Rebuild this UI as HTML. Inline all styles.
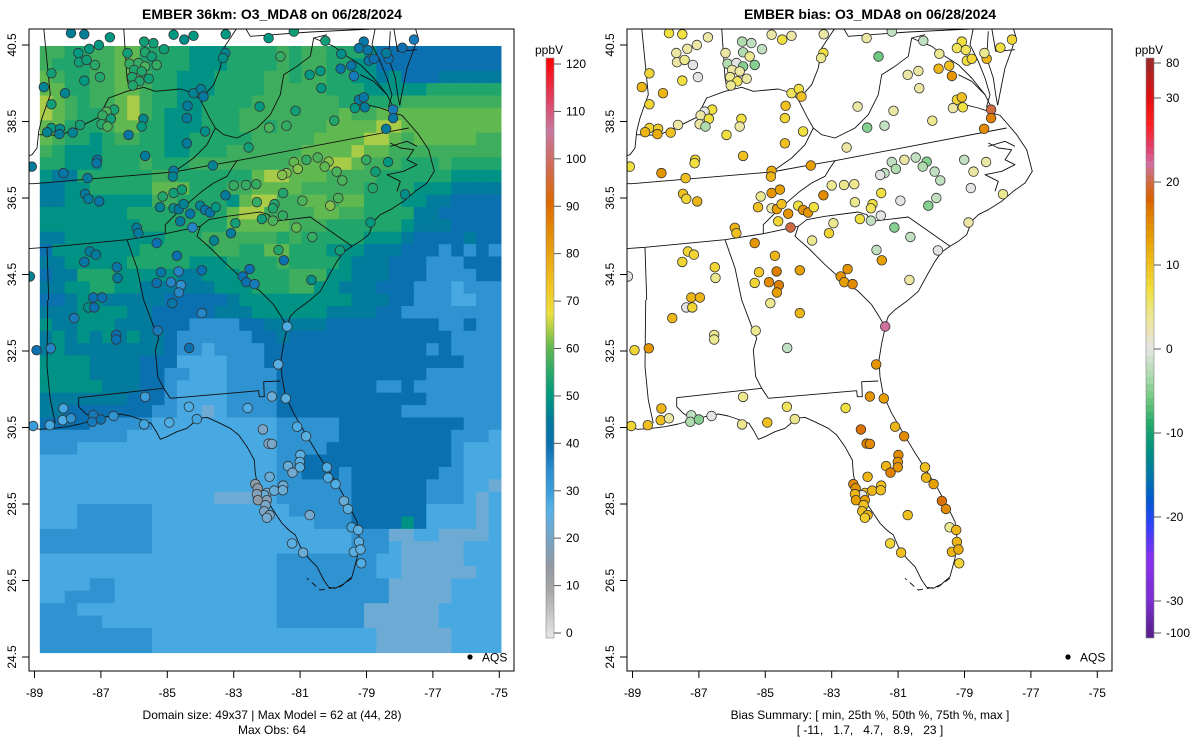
<!DOCTYPE html>
<html><head><meta charset="utf-8"><title>EMBER O3_MDA8</title>
<style>
html,body{margin:0;padding:0;background:#fff;}
svg{display:block;font-family:"Liberation Sans",Arial,sans-serif;}
</style></head>
<body>
<svg id="fig" width="1200" height="750" viewBox="0 0 1200 750" xmlns="http://www.w3.org/2000/svg">
<defs>
<clipPath id="clipL"><rect x="29" y="29" width="485" height="642"/></clipPath>
<clipPath id="clipR"><rect x="627" y="29" width="485" height="642"/></clipPath>
<linearGradient id="gradObs" x1="0" y1="1" x2="0" y2="0">
<stop offset="0" stop-color="#e6e6e6"/><stop offset="0.083" stop-color="#a6a6a6"/>
<stop offset="0.125" stop-color="#9098a0"/><stop offset="0.17" stop-color="#78a4c4"/>
<stop offset="0.22" stop-color="#58b2e8"/><stop offset="0.25" stop-color="#3aa0dc"/>
<stop offset="0.29" stop-color="#2a8ed0"/><stop offset="0.333" stop-color="#0a70b0"/>
<stop offset="0.375" stop-color="#007a9c"/><stop offset="0.417" stop-color="#009880"/>
<stop offset="0.458" stop-color="#28a868"/><stop offset="0.5" stop-color="#60b850"/>
<stop offset="0.53" stop-color="#a8cc48"/><stop offset="0.56" stop-color="#ece040"/>
<stop offset="0.6" stop-color="#f0c828"/><stop offset="0.667" stop-color="#e8a010"/>
<stop offset="0.75" stop-color="#dc6a00"/><stop offset="0.81" stop-color="#d06a50"/>
<stop offset="0.875" stop-color="#c878a0"/><stop offset="0.93" stop-color="#e04060"/>
<stop offset="1" stop-color="#ff0000"/>
</linearGradient>
</defs>
<g id="root"></g>
</svg>
<script>
// ---------- data ----------
const gridRows = [
"HHGGHHIIGGGGFFFGGGGHGHHGGGFDDDDDDDDDD",
"HGGGHHIIGGGGFFFGGGGHGHHGGFFDDDDDDDDDD",
"IHGGHHIIHGGFFFGGGGHHGHHGGFFEFDDDEEEEE",
"IIGGHHIIHGGFFFGGGGHHHHHGGGFFFFFGGGGGG",
"JIHGHHIJHGGFFGGGGHHHHHHHGGGGGHHHHHHHH",
"JIHGGHIJHGFFFGGGHHHHHHHHIHHIIIIIIIIII",
"IIGGGHIIGGFFFGGGHHGHHHHIIIIJJIIIIIIII",
"IHGGFGHHGGFFGGGGGHHHHHIIIIJJIHIIIIIHH",
"HGFFFGGGGGFFGGGHHHHHHIIIIJIIHHHHHHHHH",
"GGFFFGGGHGGGHHHHHHHHIIIJJIHHHGGGHGGGG",
"FEEGGGGGGHHGGGGGGIJJIIIHHHHGGGGGGFFFF",
"EEFFGGGGGIIIGGGHHIIIIHHHHHGGGGFFFEEEE",
"EEFFFFFFFHHGGGGFIJJHHIIHIIGGGFFEEDDDD",
"FFFFFFFGGGGGGGGIJJHHHHIIHHGGGGEEDDDDD",
"FFFFFFFFGGGGGGGIIIIIHHHGGGGGGFEEEDDDD",
"EEFFFFFFFFGGGHHHHHHGHGGGGGFFFEDDDDEDD",
"DFFFFFFFGGGGGGHHGGIIGGGFFFEEEDDDCDCDC",
"EEFFFFFGGGGGFFFGGGGHGGGGFEEEDDDCCCDDD",
"DEEGGGFFFFFEEFFFGGGGHHHFFEEEDDDCCCCDD",
"EEFFGGFFEEEEEEFFFGGGHHFFEEEDDDCCCBCCC",
"DDEFFEEEEEDDDDDEFFFFFFFFFEEEDDCCCBBCC",
"EEEFFFFEEDDDDDEEEFFFFFFEEEEDDCCCCCCCC",
"FEEFFFEEEDDDCCCCDDEEEEEDDDDDDDDDCCDCC",
"EFEFEFEFEEDCCCCCCDDEDDDDDDDDDDDDDCCCC",
"EFEEEEEEEEDCCBCCCCDDDDDDDDDDDDDCDCCCC",
"FFFFEEEEDDDBBBBCCCDDDDDDDDDDDDDDDDCCC",
"FFFFEEEEDDCCBBBCCCCDDDDDDDDDDDDCCCCCC",
"FFFFFEEEDDCBBBBCCCCDDDDDDDDCCDCCCCCCC",
"EEEEEEEDDDCBBBBCCCCDDDDDDDDDDDDCCCCCC",
"EEDDDDDDDCCBBABCCCCDDDDDDDDDDCCCCCCCC",
"DDDDCCCCCBBBBBBBBBBCCCCCDDDDDDDDDDCCC",
"CCCCCCCBBBBBBBBBBBBCCCCCDDDDDDDDDCCCB",
"CCCBBBBBBBBBBBBBBBBCCCCDDDDDDDDDDCBBB",
"BBBBBBBBBBBBBBBBBBBCCDDDDDDDDDDDDCBBB",
"BBBBBBBBBBBBBBBBBBBCCDDDCDDDDDDDCCBBB",
"BBBBBBBBBBBBBBBBBBBCCCCCCDDDDDDCCCBBA",
"BBBBBBBBBBBBBBAAABBCCCCCCDDDDDDCCCBAB",
"BBBCCCCCCBBBBBBBBBBBCCCCCDDDDDDBBBBAB",
"BBBCCCCCCBBBBBBBBBBBBBCCCDDDDFDBBBBAB",
"CCCCCCCCCBBBBBBBBBBBBBBBBCCCAABBAAAAB",
"CCCCCCCCCBBBBBBBBBBBBBBBBCCCBAAAAABBB",
"BBBBBBBBBBBBBBBBBBBCCCCCCCCBBAAAAABBB",
"BBBBBBBBBBBBBBBBBBBCCCCCCCCBBAAAAAABB",
"BBBBCCBBBBBBBBBBBBBCCCCCCCCCAAAAABBBB",
"BBCCCCBBBBBBBBBBBBBCCCCCCCCCAAAAABBBB",
"CCCBBBBBBBBBBBBBBBBCCCCCCCAAAAAABBBBB",
"CCCCCBBBBBBBBBBBBBBCCCCCCCAAAAAABBBBB",
"CCCCCCCCCBBBBBBBBBBBBBBBBBBAAAAAABBBB",
"CCCCCCCCCBBBBBBBBBBBBBBBBBBAAAAAABBBB"
];
const levelCodes = "ABCDEFGHIJK";
const levelValues = [23,29,34,40,44,49,54,57,60,64,66];

// monitor sites: longitude, latitude (axis coords), observed O3 (ppbV), model bias (ppbV)
const siteLon = [-87.90,-87.50,-86.73,-87.06,-87.35,-87.68,-87.66,-87.43,-87.18,-87.03,-87.50,-88.49,-88.72,-88.08,-88.49,-86.60,-86.83,-86.95,-86.70,-86.98,-86.80,-87.63,-88.49,-88.62,-88.23,-88.25,-87.85,-86.17,-85.72,-85.77,-86.20,-85.70,-85.42,-85.10,-85.67,-85.47,-86.14,-85.87,-85.67,-85.32,-86.00,-85.77,-86.06,-85.84,-85.56,-86.04,-84.81,-84.49,-84.21,-83.24,-83.25,-83.32,-84.21,-83.99,-83.91,-84.39,-84.41,-83.86,-84.41,-85.67,-87.11,-87.13,-89.08,-88.13,-87.40,-87.48,-87.38,-87.05,-84.81,-84.83,-83.63,-84.81,-84.56,-85.14,-85.22,-84.81,-84.65,-84.51,-84.31,-84.01,-83.86,-83.71,-83.54,-83.25,-84.61,-84.24,-83.00,-82.63,-82.32,-82.55,-82.22,-81.93,-81.41,-81.14,-81.59,-81.95,-81.19,-80.71,-80.39,-80.36,-80.24,-79.78,-79.76,-79.46,-79.38,-79.08,-79.23,-78.96,-78.93,-78.78,-78.33,-78.40,-77.92,-77.57,-79.23,-79.08,-79.35,-79.05,-78.20,-78.20,-78.41,-79.97,-81.19,-80.81,-80.47,-80.14,-80.26,-79.90,-79.73,-81.07,-81.41,-81.54,-81.51,-82.30,-81.77,-81.82,-80.93,-80.09,-79.85,-79.01,-78.73,-78.35,-78.81,-77.84,-82.15,-81.82,-81.52,-81.11,-80.63,-79.80,-78.88,-82.95,-83.08,-83.59,-81.65,-81.49,-82.52,-82.73,-82.62,-82.37,-80.66,-81.39,-85.32,-84.71,-84.66,-85.19,-83.96,-84.89,-84.59,-84.65,-85.32,-84.85,-83.96,-86.52,-86.50,-87.33,-87.15,-87.50,-87.23,-86.97,-87.38,-87.20,-87.80,-85.92,-85.87,-89.14,-86.54,-86.54,-85.29,-84.34,-88.94,-88.51,-81.66,-81.85,-81.43,-82.58,-84.35,-85.67,-88.13,-88.15,-87.90,-87.23,-87.26,-87.00,-86.62,-85.70,-84.94,-84.11,-88.54,-89.04,-82.12,-81.09,-80.82,-81.95,-81.85,-80.99,-81.01,-81.01,-81.36,-81.23,-81.92,-80.19,-80.16,-79.93,-79.68,-79.56,-82.35,-82.28,-82.00,-82.08,-82.30,-82.27,-82.00,-82.04,-82.08,-81.92,-82.00,-81.78,-81.51,-81.52,-80.71,-79.45,-79.25,-79.23,-79.38,-79.18,-79.16,-81.24,-80.91];
const siteLat = [40.81,40.78,40.70,40.50,40.40,40.29,40.05,40.11,39.98,39.66,39.57,39.76,39.40,39.24,38.95,38.81,38.76,38.66,38.57,38.43,38.37,38.41,38.33,38.22,38.31,38.17,38.21,38.15,38.57,38.37,40.29,40.59,40.55,40.39,40.31,40.20,40.01,40.03,39.94,39.98,39.85,39.81,39.66,39.55,39.62,39.44,40.77,40.64,40.74,40.78,40.29,40.16,39.24,39.35,39.15,38.91,38.59,38.24,37.93,37.60,37.50,37.41,37.32,37.15,37.02,36.61,36.48,36.41,37.21,37.06,37.35,36.63,36.72,36.54,36.26,36.23,36.21,36.34,36.09,36.30,36.19,36.12,36.26,36.57,35.89,35.73,36.83,36.84,36.86,37.82,38.89,38.34,38.39,38.78,40.20,40.68,40.85,39.72,39.82,39.37,40.61,39.88,40.27,39.96,39.69,40.59,40.42,40.37,40.09,40.14,40.14,40.29,40.43,40.64,39.07,39.13,38.85,38.87,38.81,38.59,38.31,38.52,37.44,37.50,37.56,37.45,37.32,37.19,36.96,37.26,37.15,37.10,36.63,36.39,36.34,36.23,36.43,36.30,36.50,37.50,37.19,37.44,36.76,36.60,35.95,35.91,36.04,35.73,35.48,35.13,35.86,35.84,35.58,35.39,35.14,34.87,34.64,34.45,34.30,34.25,34.36,33.14,35.32,34.99,34.58,34.56,34.61,34.30,34.22,34.03,34.28,33.75,33.49,34.69,34.41,35.10,35.02,34.83,33.90,33.90,33.64,33.64,33.36,35.72,35.58,34.45,32.92,32.80,33.03,32.58,32.52,32.57,32.15,31.31,31.26,31.01,31.04,31.30,31.00,30.69,30.74,30.82,30.65,30.71,30.80,30.58,30.63,30.72,30.56,30.54,30.45,30.52,30.27,30.08,30.07,29.78,29.60,29.46,29.49,29.32,29.21,29.46,29.19,29.02,28.58,28.37,29.02,28.91,28.79,28.73,28.76,28.60,28.60,28.47,28.31,28.21,28.14,28.85,28.98,28.86,28.21,27.89,27.82,27.51,27.25,27.31,26.95,27.47,27.23];
const siteObs = [45,45,50,50,50,50,52,52,55,54,50,52,46,46,52,53,58,56,52,55,58,52,50,46,48,45,46,42,47,50,52,52,52,52,54,52,56,56,58,56,54,54,54,54,52,54,50,48,50,50,46,48,46,45,43,44,44,48,44,44,42,42,44,42,44,44,44,42,44,46,46,52,52,54,46,48,44,46,42,46,42,42,50,44,44,36,56,56,56,52,50,58,56,52,56,50,52,50,50,50,52,42,48,42,38,42,42,42,42,40,40,44,40,38,44,42,50,44,38,42,44,54,60,56,58,62,60,58,58,62,62,62,54,56,54,54,58,62,58,56,52,50,54,48,52,58,56,60,56,52,50,52,44,46,54,40,40,40,40,38,48,28,40,40,36,42,40,36,34,36,40,42,36,42,44,44,44,42,40,40,48,40,38,44,44,46,40,40,38,40,40,36,26,24,26,28,28,32,30,28,34,38,38,40,34,30,28,30,30,32,20,28,26,20,20,26,26,26,24,22,24,28,28,28,24,26,16,16,22,24,18,16,18,20,20,20,22,24,24,24,22,30,26,26,26,26,28,26,24];
const siteBias = [7,7,3,3,3,3,3,4,0,0,7,8,11,11,8,7,0,3,7,3,-3,3,8,11,9,12,10,7,7,3,3,-3,-2,-2,-3,4,-3,0,-5,-5,3,3,4,6,3,4,3,7,3,3,7,4,6,7,10,10,8,7,10,10,8,7,7,14,10,10,8,11,12,11,13,14,13,4,10,3,13,10,14,7,14,14,7,15,8,20,4,4,4,3,3,-5,-2,3,-6,3,-2,3,3,3,-2,11,4,10,14,7,6,6,7,8,11,4,7,8,8,10,3,7,20,16,15,4,-2,3,-2,-5,-3,-2,-2,-3,-2,0,7,4,7,6,0,-5,-2,-2,3,3,0,4,7,-2,0,-5,-2,0,3,4,8,4,-2,13,14,14,13,15,3,22,14,11,16,9,13,15,16,13,8,4,11,8,4,8,8,8,11,11,0,8,11,11,10,0,4,4,4,-2,8,14,14,14,13,7,6,4,11,10,3,-2,-3,-5,0,4,10,4,10,8,17,11,15,16,15,15,14,14,11,16,11,10,11,13,17,15,15,14,10,0,11,13,13,10,10,11,9,11,10,10,10,4,11,11,11,12,8,8,10];

const xTickVals = [-89,-87,-85,-83,-81,-79,-77,-75];
const yTickVals = [40.5,38.5,36.5,34.5,32.5,30.5,28.5,26.5,24.5];
const obsTickVals = [0,10,20,30,40,50,60,70,80,90,100,110,120];
const biasTickVals = [80,30,20,10,0,-10,-20,-30,-100];
const biasTickY = [63,98,182,265,349,433,517,601,633];

// ---------- scales ----------
const OFF = 598;
function xL(lon){ return 34.5 + (lon + 89) * 33.2; }
function yS(lat){ return 45 + (40.5 - lat) * 38.25; }
function hex(h){ return [parseInt(h.substr(1,2),16),parseInt(h.substr(3,2),16),parseInt(h.substr(5,2),16)]; }
function interp(stops, v){
  if (v <= stops[0][0]) return stops[0][1];
  for (let i=1;i<stops.length;i++){
    if (v <= stops[i][0]){
      const a=stops[i-1], b=stops[i], t=(v-a[0])/(b[0]-a[0]);
      const ca=hex(a[1]), cb=hex(b[1]);
      return 'rgb('+ca.map((c,k)=>Math.round(c+(cb[k]-c)*t)).join(',')+')';
    }
  }
  return stops[stops.length-1][1];
}
const obsStops = [[0,'#e6e6e6'],[10,'#a6a6a6'],[15,'#9098a0'],[20,'#7ca6c8'],[24,'#68acd8'],[27,'#52b0e6'],[31,'#3ea2de'],[35,'#2a8ccc'],[40,'#0a70b0'],[45,'#007e98'],[50,'#009880'],[55,'#28a868'],[60,'#60b850'],[64,'#a8cc48'],[68,'#ece040'],[72,'#f0c828'],[80,'#e8a010'],[90,'#dc6a00'],[97,'#d06a50'],[105,'#c878a0'],[112,'#e04060'],[120,'#ff0000']];
const biasStops = [[-100,'#5a2090'],[-30,'#7a2ed0'],[-25,'#8a30f0'],[-21,'#3040ff'],[-18,'#0058d0'],[-15,'#0078a8'],[-12,'#009080'],[-9,'#20a868'],[-6,'#70c880'],[-3,'#b0dcb0'],[0,'#e4e4e4'],[2,'#ebe4b8'],[4,'#ece890'],[7,'#f0e040'],[10,'#f0c020'],[13,'#e8a000'],[16,'#e08000'],[18,'#d86000'],[20,'#d06a40'],[22,'#d070a0'],[24,'#e04070'],[27,'#ff2020'],[30,'#e01010'],[80,'#a02828']];

const NS='http://www.w3.org/2000/svg';
const root=document.getElementById('root');
function mk(tag, attrs, parent){
  const e=document.createElementNS(NS,tag);
  for (const k in attrs) e.setAttribute(k, attrs[k]);
  (parent||root).appendChild(e); return e;
}

// ---------- panels ----------
function panel(side){
  const off = side==='left'?0:OFF;
  const g = mk('g',{});
  
  
  return {g, off};
}
const PL = panel('left'), PR = panel('right');

// heatmap (left)
const hm = mk('g',{'clip-path':'url(#clipL)'}, PL.g);


const lon0=-88.84, dlon=0.3755, lat0=40.474, dlat=0.3237;
gridRows.forEach((row,r)=>{
  for (let c=0;c<37;c++){
    const ch=row.charAt(c)||row.charAt(row.length-1);
    const v=levelValues[levelCodes.indexOf(ch)];
    const x0=xL(lon0+c*dlon), x1=xL(lon0+(c+1)*dlon);
    const y0=yS(lat0-r*dlat), y1=yS(lat0-(r+1)*dlat);
    const cell=mk('rect',{x:x0.toFixed(2),y:y0.toFixed(2),width:(x1-x0+0.4).toFixed(2),height:(y1-y0+0.4).toFixed(2),fill:interp(obsStops,v)},hm);
    
    
  }
});

// basemap outlines (frame coords)
const F5=(p)=>[27+p[0]/3, 28+p[1]/3];
const F6=(p)=>[27+p[0]/3, 300+p[1]/3];
const outlines = [
 {n:'delmarva-coast',f:F5,p:[[1165,0],[1172,25],[1162,60],[1140,120],[1128,180],[1118,232]]},
 {n:'delaware-border',f:F5,p:[[1100,0],[1112,70],[1170,65]]},
 {n:'chesapeake-east',f:F5,p:[[1090,10],[1085,90],[1105,150],[1112,200],[1118,232]]},
 {n:'chesapeake-west',f:F5,p:[[1045,0],[1035,50],[1060,100],[1080,150],[1095,200],[1085,235],[1100,255],[1125,262]]},
 {n:'rappahannock',f:F5,p:[[1000,140],[1040,160],[1080,200]]},
 {n:'james-river',f:F5,p:[[1020,230],[1060,240],[1090,250]]},
 {n:'atlantic-coast',f:F5,p:[[1125,262],[1145,285],[1175,320],[1205,365],[1222,430],[1200,465],[1165,490],[1130,520],[1090,545],[1060,560],[1040,580],[1025,620],[1000,640],[975,655],[950,672],[930,700],[910,735],[880,790],[845,820],[810,845],[790,865],[780,895]]},
 {n:'pamlico-sound',f:F5,p:[[1090,345],[1120,360],[1160,365],[1140,395],[1170,410],[1130,430],[1080,440],[1120,460],[1110,490]]},
 {n:'albemarle-sound',f:F5,p:[[1090,355],[1140,340],[1170,355]]},
 {n:'florida-gulf-coast',f:F6,p:[[780,85],[770,130],[762,180],[765,230],[775,285],[800,340],[835,400],[868,455],[900,505],[935,560],[965,615],[990,665],[997,720],[990,775],[975,830],[950,852],[925,865],[905,862],[890,840],[870,800],[845,775],[820,740],[805,705],[785,690],[765,670],[745,640],[725,610],[695,575],[685,520],[682,480],[660,440],[635,405],[610,385],[575,368],[540,352],[515,355],[495,372],[480,385],[450,395],[420,410],[400,418],[388,395],[372,370],[345,360],[310,348],[280,342],[240,350],[200,360],[160,372],[120,380],[80,385],[40,388],[0,380]]},
 {n:'ky-tn-va-nc-border',f:F5,p:[[0,467],[20,467],[440,432],[560,410],[630,398],[1145,300]]},
 {n:'tn-nc-border',f:F5,p:[[630,398],[615,420],[600,445],[560,465],[525,490],[490,520],[455,550],[425,580],[415,590],[415,617]]},
 {n:'tn-south-border',f:F5,p:[[0,662],[60,658],[300,635],[415,617],[520,595]]},
 {n:'nc-sc-border',f:F5,p:[[520,595],[545,575],[600,565],[700,552],[725,560],[740,580],[850,567],[975,655]]},
 {n:'sc-ga-border',f:F5,p:[[520,595],[510,625],[550,660],[600,710],[650,755],[700,790],[740,830],[760,862],[780,895]]},
 {n:'al-ga-border-n',f:F5,p:[[300,635],[330,720],[350,816]]},
 {n:'al-ga-border-s',f:F6,p:[[350,0],[380,80],[395,115],[385,150],[392,230],[410,265],[430,295]]},
 {n:'ga-fl-border',f:F6,p:[[430,295],[695,272],[697,290],[712,290],[710,245],[760,243]]},
 {n:'al-fl-border',f:F6,p:[[410,265],[155,293],[155,320],[175,340],[190,350]]},
 {n:'ms-al-border-n',f:F5,p:[[60,658],[65,816]]},
 {n:'ms-al-border-s',f:F6,p:[[62,0],[60,200],[70,300],[85,370]]},
 {n:'il-ky-border',f:F5,p:[[50,0],[60,100],[70,200],[45,270],[35,310],[30,360],[15,380],[0,385]]},
 {n:'ohio-river',f:F5,p:[[35,320],[100,322],[160,295],[215,268],[245,210],[300,190],[350,178],[385,190],[460,183],[500,195],[520,215]]},
 {n:'ky-wv-va-border',f:F5,p:[[520,215],[545,265],[565,300],[540,350],[500,390],[440,432]]},
 {n:'in-oh-border',f:F5,p:[[290,0],[300,150],[305,175]]},
 {n:'wv-oh-border',f:F5,p:[[520,215],[560,170],[580,120],[590,60],[630,0]]},
 {n:'wv-va-border',f:F5,p:[[565,300],[590,320],[630,330],[690,300],[730,260],[760,200],[770,140],[810,115],[850,85],[860,30],[900,20]]},
 {n:'md-pa-border',f:F5,p:[[655,0],[670,25],[850,12],[1100,0]]},
 {n:'potomac-border',f:F5,p:[[860,30],[920,55],[960,85],[1000,110],[1040,150],[1080,200],[1095,230]]}
];
[PL,PR].forEach((P,i)=>{
  const og=mk('g',{'clip-path':i===0?'url(#clipL)':'url(#clipR)',fill:'none',stroke:'#111','stroke-width':'0.9','stroke-linejoin':'round'},P.g);
  
  
  outlines.forEach(o=>{
    const pts=o.p.map(p=>{const q=o.f(p);return (q[0]+P.off).toFixed(1)+','+q[1].toFixed(1);}).join(' ');
    const pl=mk('polyline',{points:pts},og);
    
    
  });
  const keys=mk('polyline',{points:[[975,835],[940,860],[880,870],[840,835]].map(p=>{const q=F6(p);return (q[0]+P.off).toFixed(1)+','+q[1].toFixed(1);}).join(' '),'stroke-dasharray':'6 4'},og);
  
  
});

// site markers
[PL,PR].forEach((P,i)=>{
  const sg=mk('g',{'clip-path':i===0?'url(#clipL)':'url(#clipR)'},P.g);
  
  
  siteLon.forEach((lon,k)=>{
    const col = i===0 ? interp(obsStops, siteObs[k]) : interp(biasStops, siteBias[k]);
    const c=mk('circle',{cx:(xL(lon)+P.off).toFixed(1),cy:yS(siteLat[k]).toFixed(1),r:4.8,fill:col,stroke:'#333','stroke-width':0.8},sg);
    
    
  });
});

// frames, ticks, labels
[PL,PR].forEach((P,i)=>{
  const fr=mk('rect',{x:29+P.off,y:29,width:485,height:642,fill:'none',stroke:'#000','stroke-width':1},P.g);
  
  
  xTickVals.forEach(v=>{
    const x=xL(v)+P.off;
    const t=mk('line',{x1:x,y1:671,x2:x,y2:678,stroke:'#000'},P.g);
    
    
    const tx=mk('text',{x:x,y:697,'text-anchor':'middle','font-size':12,fill:'#000'},P.g);
    tx.textContent=String(v);
    
    
  });
  yTickVals.forEach(v=>{
    const y=yS(v);
    const t=mk('line',{x1:22+P.off,y1:y,x2:29+P.off,y2:y,stroke:'#000'},P.g);
    
    
    const tx=mk('text',{x:0,y:0,'text-anchor':'middle','font-size':12,fill:'#000',transform:'translate('+(16+P.off)+','+y+') rotate(-90)'},P.g);
    tx.textContent=v.toFixed(1);
    
    
  });
  const ld=mk('circle',{cx:470+P.off,cy:657,r:2.6,fill:'#000'},P.g);
  
  
  const lt=mk('text',{x:482+P.off,y:661.5,'font-size':12,fill:'#000'},P.g);
  lt.textContent='AQS';
  
  
});

function text(str,x,y,opts,name,parent){
  const t=mk('text',Object.assign({x:x,y:y,'font-size':12,fill:'#000'},opts||{}),parent);
  t.textContent=str;
  
  
  return t;
}
text('EMBER 36km: O3_MDA8 on 06/28/2024',272,19,{'text-anchor':'middle','font-weight':'bold','font-size':14},'left-title',PL.g);
text('EMBER bias: O3_MDA8 on 06/28/2024',870,19,{'text-anchor':'middle','font-weight':'bold','font-size':14},'right-title',PR.g);
text('Domain size: 49x37 | Max Model = 62 at (44, 28)',272,719,{'text-anchor':'middle'},'domain-summary',PL.g);
text('Max Obs: 64',272,734,{'text-anchor':'middle'},'max-obs',PL.g);
text('Bias Summary: [ min, 25th %, 50th %, 75th %, max ]',870,719,{'text-anchor':'middle'},'bias-summary-header',PR.g);
text('[ -11,   1.7,   4.7,   8.9,   23 ]',870,734,{'text-anchor':'middle',style:'white-space:pre'},'bias-summary-values',PR.g);

// colorbars
const cbL=mk('g',{});  
const barL=mk('rect',{x:546,y:58,width:8,height:580,fill:'url(#gradObs)',stroke:'#888','stroke-width':0.6},cbL);
 
text('ppbV',549,54,{'text-anchor':'middle'},'obs-colorbar-unit',cbL);
function yObsBar(v){ return 633 - v*(633-64)/120; }
obsTickVals.forEach(v=>{
  const y=yObsBar(v);
  const t=mk('line',{x1:554,y1:y,x2:561,y2:y,stroke:'#555'},cbL);
   
  text(String(v),566,y+4,{},'obs-colorbar-label',cbL);
});
const cbR=mk('g',{});  
for (let i=0;i<biasTickVals.length-1;i++){
  const v0=biasTickVals[i], v1=biasTickVals[i+1], y0=biasTickY[i], y1=biasTickY[i+1];
  const n=12;
  for (let k=0;k<n;k++){
    const ya=y0+(y1-y0)*k/n, vm=v0+(v1-v0)*(k+0.5)/n;
    const s=mk('rect',{x:1146,y:ya.toFixed(2),width:8,height:((y1-y0)/n+0.5).toFixed(2),fill:interp(biasStops,vm)},cbR);
     
  }
}
const topS=mk('rect',{x:1146,y:58,width:8,height:5,fill:interp(biasStops,80)},cbR);
 
const botS=mk('rect',{x:1146,y:633,width:8,height:5,fill:interp(biasStops,-100)},cbR);
 
const fr2=mk('rect',{x:1146,y:58,width:8,height:580,fill:'none',stroke:'#888','stroke-width':0.6},cbR);
 
text('ppbV',1149,54,{'text-anchor':'middle'},'bias-colorbar-unit',cbR);
biasTickVals.forEach((v,i)=>{
  const y=biasTickY[i];
  const t=mk('line',{x1:1154,y1:y,x2:1161,y2:y,stroke:'#555'},cbR);
   
  text(String(v),1166,y+4,{},'bias-colorbar-label',cbR);
});
</script>
</body></html>
